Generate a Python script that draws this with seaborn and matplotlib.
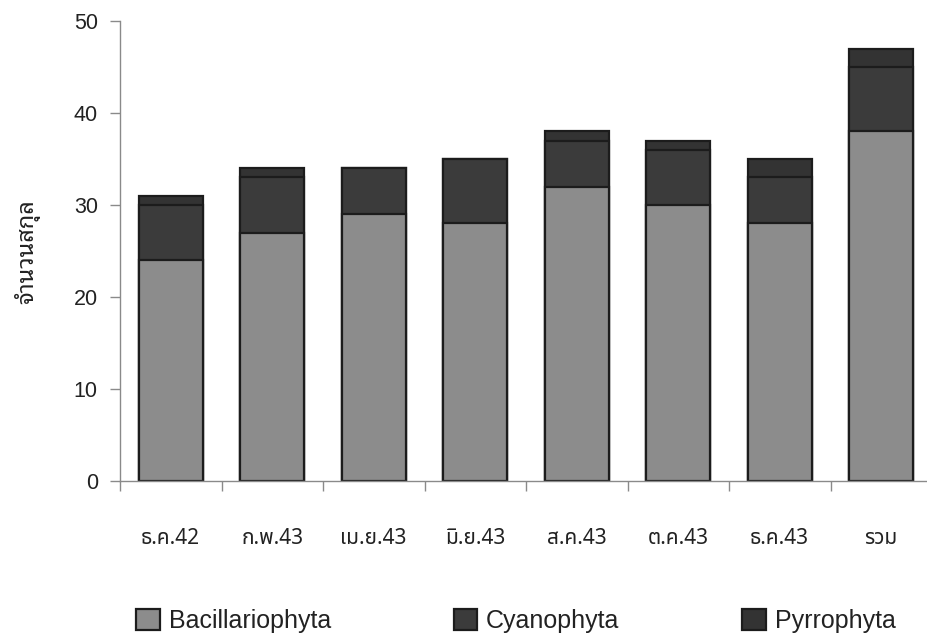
import matplotlib
matplotlib.use("Agg")
import matplotlib.pyplot as plt
from matplotlib.patches import Patch
import seaborn as sns
import pandas as pd

# Sampling periods and number of genera found in each phylum
periods = ["ธ.ค.42", "ก.พ.43", "เม.ย.43", "มิ.ย.43", "ส.ค.43", "ต.ค.43", "ธ.ค.43", "รวม"]
bacillariophyta = [24, 27, 29, 28, 32, 30, 28, 38]
cyanophyta = [6, 6, 5, 7, 5, 6, 5, 7]
pyrrophyta = [1, 1, 0, 0, 1, 1, 2, 2]
y_ticks = [0, 10, 20, 30, 40, 50]

series_names = ["Bacillariophyta", "Cyanophyta", "Pyrrophyta"]
series_values = [bacillariophyta, cyanophyta, pyrrophyta]
series_colors = ["#8c8c8c", "#3b3b3b", "#333333"]
edge_color = "#1c1c1c"
axis_color = "#8a8a8a"

sns.set_theme(style="white")
plt.rcParams["font.family"] = ["Liberation Sans", "Noto Sans Thai", "DejaVu Sans"]
thai_family = ["Noto Sans Thai", "DejaVu Sans"]
thai_looped = ["Noto Sans Thai Looped", "Noto Sans Thai", "DejaVu Sans"]

fig = plt.figure(figsize=(9.28, 6.35), dpi=100)
ax = fig.add_axes([120 / 928, 1 - 481 / 635, 812 / 928, 460 / 635])

# cumulative tops; the lowest segment is drawn last so each bar stacks correctly
tops = []
running = [0] * len(periods)
for vals in series_values:
    running = [r + v for r, v in zip(running, vals)]
    tops.append(running)

for name, color, top in reversed(list(zip(series_names, series_colors, tops))):
    df = pd.DataFrame({"period": periods, "value": top})
    sns.barplot(data=df, x="period", y="value", color=color, saturation=1,
                width=0.63, edgecolor=edge_color, linewidth=1.6, ax=ax)

ax.set_xlim(-0.5, len(periods) - 0.5)
ax.set_ylim(0, 50)
ax.set_yticks(y_ticks)
ax.set_xlabel("")
ax.set_ylabel("")

for side in ("top", "right"):
    ax.spines[side].set_visible(False)
for side in ("left", "bottom"):
    ax.spines[side].set_color(axis_color)
    ax.spines[side].set_linewidth(1.0)

# category labels sit under the bars; tick marks fall on the category boundaries
ax.set_xticks(range(len(periods)))
ax.set_xticklabels(periods, family=thai_family, fontsize=15, color="#222222")
ax.tick_params(axis="x", which="major", length=0, pad=34)
ax.set_xticks([i - 0.5 for i in range(len(periods))], minor=True)
ax.tick_params(axis="x", which="minor", bottom=True, direction="out", length=7,
               width=1.0, color=axis_color)
ax.tick_params(axis="y", left=True, direction="out", length=7, width=1.0,
               color=axis_color, labelsize=15.5, labelcolor="#222222", pad=9)

fig.text(27 / 928, 1 - 252 / 635, "จำนวนสกุล", rotation=90, ha="center", va="center",
         family=thai_looped, fontsize=17, color="#222222")

handles = [Patch(facecolor=c, edgecolor=edge_color, linewidth=1.6) for c in series_colors]
fig.legend(handles, series_names, loc="center", bbox_to_anchor=(516 / 928, 1 - 621 / 635),
           ncol=3, frameon=False, fontsize=18, handlelength=0.95, handleheight=0.95,
           handletextpad=0.35, columnspacing=4.9, labelcolor="#222222")

fig.savefig("out.png", dpi=100)
